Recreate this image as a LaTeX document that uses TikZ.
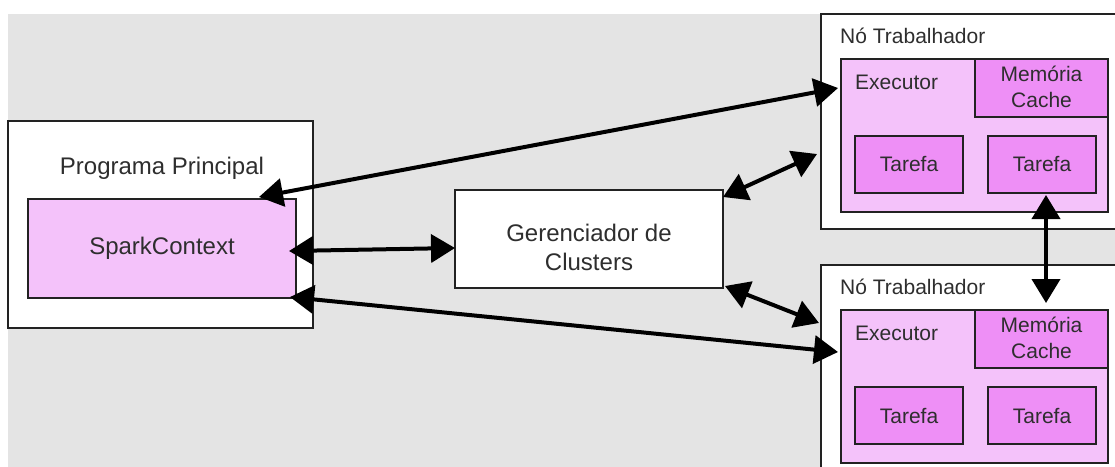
\documentclass[tikz,border=0pt]{standalone}
\usepackage{fontspec}
\setmainfont{Liberation Sans}
\usetikzlibrary{arrows.meta}

\definecolor{canvasgray}{HTML}{E4E4E4}
\definecolor{execpink}{HTML}{F4C2FA}
\definecolor{taskpink}{HTML}{EE8FF6}
\definecolor{inkgray}{HTML}{2E2E2E}
\definecolor{edgegray}{HTML}{222222}

\tikzset{
  box/.style={draw=edgegray, line width=1.2pt, anchor=north west, inner sep=0pt, outer sep=0pt},
  whitebox/.style={box, fill=white},
  execbox/.style={box, fill=execpink},
  taskbox/.style={box, fill=taskpink},
  bigtext/.style={font=\fontsize{24}{29}\selectfont, text=inkgray, inner sep=0pt, align=center},
  smalltext/.style={font=\fontsize{21}{26}\selectfont, text=inkgray, inner sep=0pt, align=center},
  biarrow/.style={line width=4pt, draw=black,
    {Triangle[length=24pt,width=28pt]}-{Triangle[length=24pt,width=28pt]}},
}

\begin{document}
\begin{tikzpicture}[x=1pt, y=-1pt]
  \useasboundingbox (0,0) rectangle (1115,466);
  \clip (0,0) rectangle (1115,466);

  % backdrop
  \fill[canvasgray] (8,14) rectangle (1120,470);

  % driver program
  \node[whitebox, minimum width=305pt, minimum height=207pt] (prog) at (8,121) {};
  \node[bigtext] (progtitle) at (162,168) {Programa Principal};
  \node[execbox, minimum width=268pt, minimum height=99pt] (sc) at (28,199) {};
  \node[bigtext] (sctext) at (sc.center) {SparkContext};

  % cluster manager
  \node[whitebox, minimum width=268pt, minimum height=98pt] (gm) at (455,190) {};
  \node[bigtext] (gmtext) at (589,247) {Gerenciador de\\Clusters};

  % worker nodes
  \foreach \i/\dy in {1/0, 2/251} {
    \node[whitebox, minimum width=300pt, minimum height=215pt] (w\i) at (821,14+\dy) {};
    \node[smalltext, anchor=base west] (w\i title) at (840,43+\dy) {Nó Trabalhador};
    \node[execbox, minimum width=267pt, minimum height=153pt] (ex\i) at (841,59+\dy) {};
    \node[smalltext, anchor=base west] (ex\i text) at (855,89+\dy) {Executor};
    \node[taskbox, minimum width=133pt, minimum height=58pt] (mc\i) at (975,59+\dy) {};
    \node[smalltext] (mc\i text) at ([yshift=1pt]mc\i.center) {Memória\\Cache};
    \node[taskbox, minimum width=108pt, minimum height=57pt] (t\i a) at (855,136+\dy) {};
    \node[smalltext] (t\i atext) at (t\i a.center) {Tarefa};
    \node[taskbox, minimum width=108pt, minimum height=57pt] (t\i b) at (988,136+\dy) {};
    \node[smalltext] (t\i btext) at (t\i b.center) {Tarefa};
  }

  % connections
  \draw[biarrow] ([xshift=-37pt,yshift=2pt]sc.north east) -- ([xshift=-3pt,yshift=-29pt]ex1.north west);
  \draw[biarrow] ([xshift=-7pt,yshift=-2.5pt]sc.east) -- ([yshift=-9pt]gm.west);
  \draw[biarrow] ([xshift=-6pt,yshift=1pt]sc.south east) -- ([xshift=-3pt,yshift=-42pt]ex2.north west);
  \draw[biarrow] ([yshift=-7pt]gm.north east) -- ([xshift=-4pt,yshift=-140pt]w1.north west);
  \draw[biarrow] ([xshift=2pt,yshift=2pt]gm.south east) -- ([xshift=-2pt,yshift=-58pt]w2.north west);
  \draw[biarrow] ([xshift=4pt,yshift=-2pt]t1b.south) -- ([xshift=4.5pt,yshift=7pt]mc2.north);
\end{tikzpicture}
\end{document}
